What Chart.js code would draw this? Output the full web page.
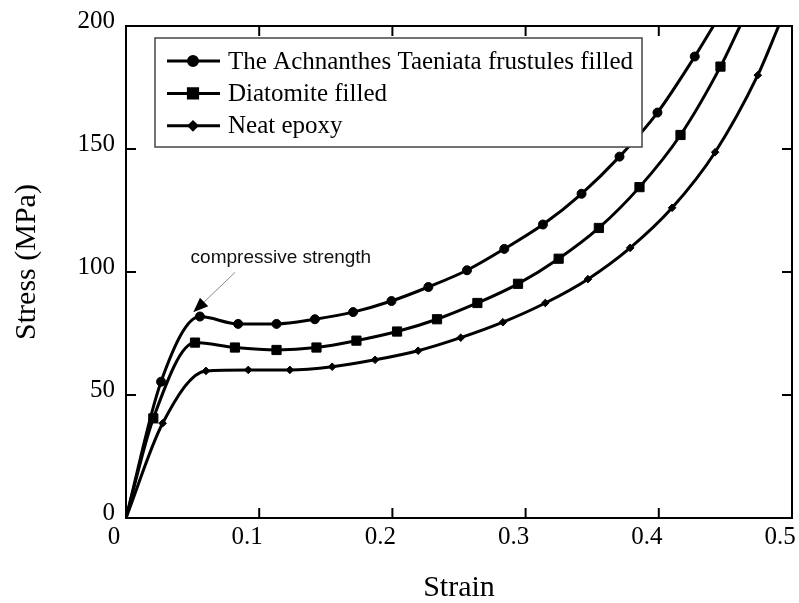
<!DOCTYPE html>
<html>
<head>
<meta charset="utf-8">
<title>Stress-strain curves</title>
<script src="https://cdn.jsdelivr.net/npm/chart.js@4.4.0/dist/chart.umd.min.js"></script>
<style>
  html, body { margin: 0; padding: 0; background: #fff; }
  #wrap { width: 799px; height: 603px; }
</style>
</head>
<body>
<div id="wrap"><canvas id="chart" width="799" height="603"></canvas></div>
<script>
// values (strain, stress in MPa)
const seriesLabels = ['The Achnanthes Taeniata frustules filled', 'Diatomite filled', 'Neat epoxy'];
const pointStyles = ['circle', 'rect', 'rectRot'];
const markerSizes = [4.5, 6.5, 3.8];

const frustuleStrain = [0, 0.0263, 0.0555, 0.0842, 0.113, 0.1418, 0.1705, 0.1993, 0.227, 0.256, 0.284, 0.313, 0.342, 0.3705, 0.399, 0.427, 0.441];
const frustuleStress = [0, 55.4, 81.9, 78.9, 78.9, 80.8, 83.7, 88.2, 93.9, 100.7, 109.4, 119.3, 131.8, 146.9, 164.8, 187.6, 200];

const diatomiteStrain = [0, 0.0205, 0.0518, 0.0818, 0.113, 0.143, 0.173, 0.2035, 0.2335, 0.2638, 0.2943, 0.3248, 0.355, 0.3855, 0.4163, 0.4463, 0.461];
const diatomiteStress = [0, 40.5, 71.3, 69.3, 68.3, 69.3, 72.1, 75.8, 80.8, 87.4, 95.2, 105.4, 117.9, 134.5, 155.7, 183.5, 200];

const epoxyStrain = [0, 0.0275, 0.06, 0.0918, 0.123, 0.1548, 0.187, 0.2193, 0.2513, 0.283, 0.3148, 0.3468, 0.3785, 0.41, 0.4423, 0.4743, 0.49];
const epoxyStress = [0, 38.5, 59.8, 60.2, 60.2, 61.5, 64.3, 68.0, 73.3, 79.6, 87.4, 97.1, 109.8, 126.1, 148.7, 180.0, 200];

const xTicks = [0, 0.1, 0.2, 0.3, 0.4, 0.5];
const yTicks = [0, 50, 100, 150, 200];

const xTitle = 'Strain';
const yTitle = 'Stress (MPa)';

// "compressive strength" note, in data units
const noteText = 'compressive strength';
const noteAt = [0.0485, 103.7];
const arrowFrom = [0.0818, 99.8];
const arrowTo = [0.0505, 83.6];

const serif = '"Liberation Serif", "Times New Roman", serif';
const sans = '"Liberation Sans", Arial, sans-serif';
const TICK_LEN = 10;

function toPoints(xs, ys) {
  return xs.map((v, i) => ({ x: v, y: ys[i] }));
}

function makeDataset(i, xs, ys) {
  const last = xs.length - 1;
  return {
    label: seriesLabels[i],
    data: toPoints(xs, ys),
    borderColor: '#000',
    backgroundColor: '#000',
    borderWidth: 3,
    cubicInterpolationMode: 'monotone',
    pointStyle: pointStyles[i],
    pointRadius: ctx => (ctx.dataIndex === 0 || ctx.dataIndex === last) ? 0 : markerSizes[i],
    pointBackgroundColor: '#000',
    pointBorderColor: '#000',
    pointBorderWidth: 1,
    clip: 0
  };
}

function drawFrame(chart) {
  const { ctx, chartArea: a, scales: { x, y } } = chart;
  ctx.save();
  ctx.strokeStyle = '#000';
  ctx.lineWidth = 2;
  ctx.strokeRect(a.left, a.top, a.right - a.left, a.bottom - a.top);
  ctx.beginPath();
  x.ticks.forEach(t => {
    if (t.value <= x.min || t.value >= x.max) return;
    const px = x.getPixelForValue(t.value);
    ctx.moveTo(px, a.bottom); ctx.lineTo(px, a.bottom - TICK_LEN);
    ctx.moveTo(px, a.top); ctx.lineTo(px, a.top + TICK_LEN);
  });
  y.ticks.forEach(t => {
    if (t.value <= y.min || t.value >= y.max) return;
    const py = y.getPixelForValue(t.value);
    ctx.moveTo(a.left, py); ctx.lineTo(a.left + TICK_LEN, py);
    ctx.moveTo(a.right, py); ctx.lineTo(a.right - TICK_LEN, py);
  });
  ctx.stroke();

  // y axis title, sitting a little above the middle like the original
  ctx.font = '30px ' + serif;
  ctx.fillStyle = '#000';
  ctx.textAlign = 'center';
  ctx.textBaseline = 'middle';
  ctx.translate(27, (a.top + a.bottom) / 2 - 10);
  ctx.rotate(-Math.PI / 2);
  ctx.fillText(yTitle, 0, 0);
  ctx.restore();
}

function drawNote(chart) {
  const { ctx, scales: { x, y } } = chart;
  ctx.save();
  ctx.font = '19px ' + sans;
  ctx.fillStyle = '#111';
  ctx.textBaseline = 'alphabetic';
  ctx.fillText(noteText, x.getPixelForValue(noteAt[0]), y.getPixelForValue(noteAt[1]));

  const x0 = x.getPixelForValue(arrowFrom[0]), y0 = y.getPixelForValue(arrowFrom[1]);
  const x1 = x.getPixelForValue(arrowTo[0]), y1 = y.getPixelForValue(arrowTo[1]);
  const len = Math.hypot(x1 - x0, y1 - y0);
  const ux = (x1 - x0) / len, uy = (y1 - y0) / len;
  const head = 15, half = 6;
  const bx = x1 - ux * head, by = y1 - uy * head;
  ctx.strokeStyle = '#888';
  ctx.lineWidth = 1;
  ctx.beginPath();
  ctx.moveTo(x0, y0);
  ctx.lineTo(bx, by);
  ctx.stroke();
  ctx.fillStyle = '#000';
  ctx.beginPath();
  ctx.moveTo(x1, y1);
  ctx.lineTo(bx - uy * half, by + ux * half);
  ctx.lineTo(bx + uy * half, by - ux * half);
  ctx.closePath();
  ctx.fill();
  ctx.restore();
}

function drawLegend(chart) {
  const { ctx, chartArea: a } = chart;
  const left = a.left + 29, top = a.top + 12;
  const w = 487, h = 109;
  ctx.save();
  ctx.fillStyle = '#fff';
  ctx.fillRect(left, top, w, h);
  ctx.strokeStyle = '#444';
  ctx.lineWidth = 1.5;
  ctx.strokeRect(left, top, w, h);
  ctx.font = '25px ' + serif;
  ctx.textBaseline = 'middle';
  chart.data.datasets.forEach((ds, i) => {
    const cy = top + 23 + i * 32.4;
    ctx.strokeStyle = '#000';
    ctx.lineWidth = 3;
    ctx.beginPath();
    ctx.moveTo(left + 12, cy);
    ctx.lineTo(left + 65, cy);
    ctx.stroke();
    ctx.fillStyle = '#000';
    Chart.helpers.drawPoint(ctx, { pointStyle: ds.pointStyle, radius: markerSizes[i], rotation: 0, borderWidth: 1 }, left + 38, cy);
    ctx.fillStyle = '#000';
    ctx.fillText(ds.label, left + 73, cy + 1);
  });
  ctx.restore();
}

const paperLook = {
  id: 'paperLook',
  afterDatasetsDraw(chart) {
    drawNote(chart);
    drawLegend(chart);
  },
  afterDraw(chart) {
    drawFrame(chart);
  }
};

new Chart(document.getElementById('chart'), {
  type: 'line',
  data: {
    datasets: [
      makeDataset(0, frustuleStrain, frustuleStress),
      makeDataset(1, diatomiteStrain, diatomiteStress),
      makeDataset(2, epoxyStrain, epoxyStress)
    ]
  },
  options: {
    responsive: false,
    animation: false,
    events: [],
    layout: { padding: { top: 26, right: 7, left: 0, bottom: 0 } },
    plugins: { legend: { display: false }, tooltip: { enabled: false } },
    scales: {
      x: {
        type: 'linear',
        min: 0,
        max: 0.5,
        afterBuildTicks: s => { s.ticks = xTicks.map(v => ({ value: v })); },
        afterFit: s => { s.height = 85; s.paddingLeft = 0; s.paddingRight = 0; },
        grid: { display: false, drawTicks: false },
        border: { display: false },
        ticks: {
          color: '#000',
          font: { family: serif, size: 25 },
          padding: 4,
          labelOffset: -12,
          maxRotation: 0,
          callback: v => String(v)
        },
        title: {
          display: true,
          text: xTitle,
          color: '#000',
          font: { family: serif, size: 30, lineHeight: 1 },
          padding: { top: 0, bottom: 0 }
        }
      },
      y: {
        type: 'linear',
        min: 0,
        max: 200,
        afterBuildTicks: s => { s.ticks = yTicks.map(v => ({ value: v })); },
        afterFit: s => { s.width = 126; s.paddingTop = 0; s.paddingBottom = 0; },
        grid: { display: false, drawTicks: false },
        border: { display: false },
        ticks: {
          color: '#000',
          font: { family: serif, size: 25 },
          padding: 11,
          labelOffset: -5,
          callback: v => String(v)
        },
        title: { display: false }
      }
    }
  },
  plugins: [paperLook]
});
</script>
</body>
</html>
